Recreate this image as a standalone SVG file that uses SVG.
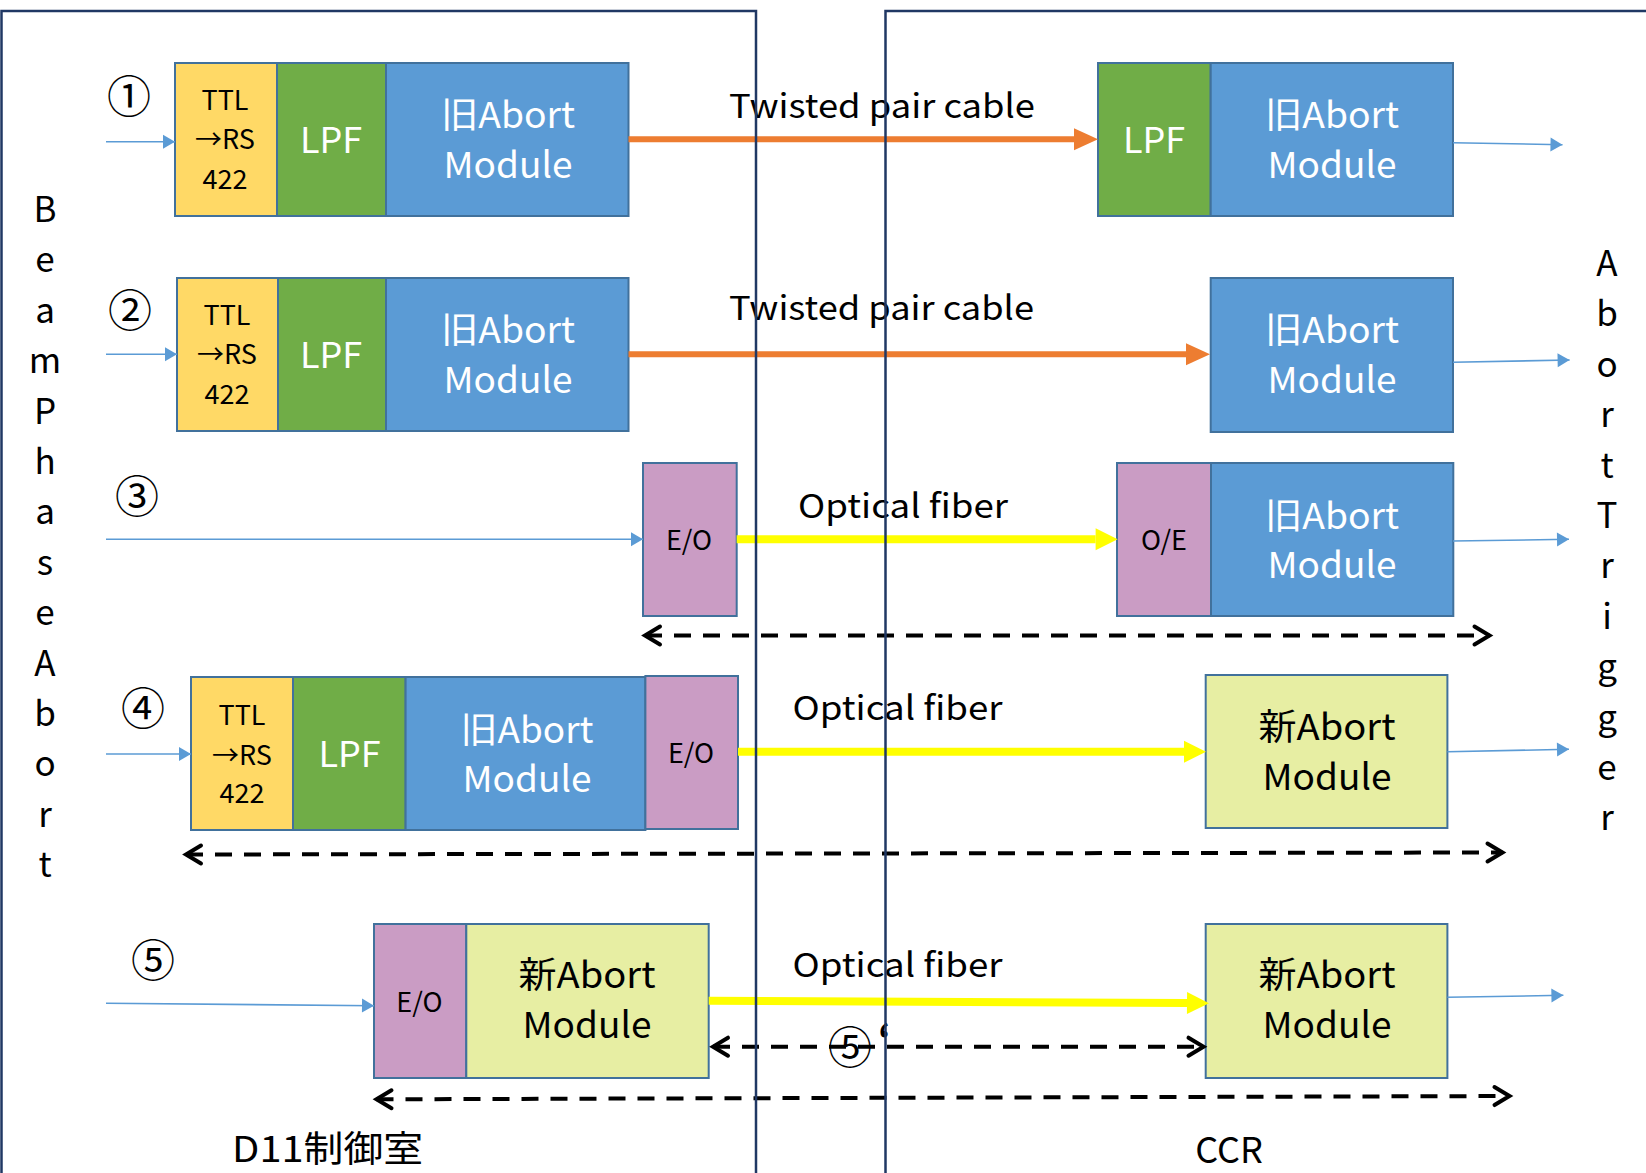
<svg xmlns="http://www.w3.org/2000/svg" width="1646" height="1173" viewBox="0 0 1646 1173">
  <style>
    text { font-family: "Noto Sans CJK JP", "Noto Sans", sans-serif; fill: #000; }
    .box { stroke: #41719C; stroke-width: 2; }
    .ttl { fill: #FFD966; }
    .lpf { fill: #70AD47; }
    .old { fill: #5B9BD5; }
    .eo { fill: #CA9CC4; }
    .new { fill: #E7EEA3; }
    .lbl { font-size: 36px; text-anchor: middle; }
    .w { fill: #fff; }
    .sm { font-size: 27px; text-anchor: middle; }
    .num { font-size: 44px; text-anchor: middle; }
    .cable { font-size: 33px; }
    .vert { font-size: 35px; text-anchor: middle; }
    .sig { stroke: #5B9BD5; stroke-width: 1.6; fill: none; marker-end: url(#blueHead); }
    .tp { stroke: #ED7D31; stroke-width: 6; fill: none; marker-end: url(#orangeHead); }
    .of { stroke: #FFFF00; stroke-width: 8; fill: none; marker-end: url(#yellowHead); }
    .span { stroke: #000; stroke-width: 4; fill: none; stroke-dasharray: 17 12; marker-start: url(#chev); marker-end: url(#chev); }
    .frame { stroke: #203864; stroke-width: 2.5; fill: none; }
  </style>
  <defs>
    <marker id="blueHead" markerUnits="userSpaceOnUse" orient="auto" refX="0" refY="0" markerWidth="20" markerHeight="20" overflow="visible">
      <path d="M-12,-7 L0,0 L-12,7 Z" fill="#5B9BD5"/>
    </marker>
    <marker id="orangeHead" markerUnits="userSpaceOnUse" orient="auto" refX="0" refY="0" markerWidth="30" markerHeight="30" overflow="visible">
      <path d="M0,-11 L24,0 L0,11 Z" fill="#ED7D31"/>
    </marker>
    <marker id="yellowHead" markerUnits="userSpaceOnUse" orient="auto" refX="0" refY="0" markerWidth="30" markerHeight="30" overflow="visible">
      <path d="M0,-11 L22,0 L0,11 Z" fill="#FFFF00"/>
    </marker>
    <marker id="chev" markerUnits="userSpaceOnUse" orient="auto-start-reverse" refX="0" refY="0" markerWidth="30" markerHeight="30" overflow="visible">
      <path d="M-15,-9 L0,0 L-15,9" fill="none" stroke="#000" stroke-width="4" stroke-linecap="round" stroke-linejoin="miter"/>
    </marker>
  </defs>

  <rect width="1646" height="1173" fill="#fff"/>

  <!-- vertical side labels -->
  <g id="label-beam-phase-abort" class="vert">
    <text x="45" y="222">B</text><text x="45" y="272">e</text><text x="45" y="323">a</text>
    <text x="45" y="373">m</text><text x="45" y="424">P</text><text x="45" y="474">h</text>
    <text x="45" y="524">a</text><text x="45" y="575">s</text><text x="45" y="625">e</text>
    <text x="45" y="676">A</text><text x="45" y="726">b</text><text x="45" y="776">o</text>
    <text x="45" y="827">r</text><text x="45" y="877">t</text>
  </g>
  <g id="label-abort-trigger" class="vert">
    <text x="1607" y="276">A</text><text x="1607" y="326">b</text><text x="1607" y="377">o</text>
    <text x="1607" y="427">r</text><text x="1607" y="478">t</text><text x="1607" y="528">T</text>
    <text x="1607" y="578">r</text><text x="1607" y="629">i</text><text x="1607" y="679">g</text>
    <text x="1607" y="730">g</text><text x="1607" y="780">e</text><text x="1607" y="830">r</text>
  </g>

  <!-- route numbers -->
  <g id="route-numbers" class="num">
    <text x="129" y="113">①</text>
    <text x="130" y="327">②</text>
    <text x="137" y="513">③</text>
    <text x="143" y="725">④</text>
    <text x="153" y="977">⑤</text>
  </g>

  <!-- route 1 -->
  <g id="r1-sender">
    <rect class="box ttl" x="175" y="63" width="102" height="153"/>
    <rect class="box lpf" x="277" y="63" width="109" height="153"/>
    <rect class="box old" x="386" y="63" width="242.5" height="153"/>
    <text class="sm" x="225" y="110">TTL</text>
    <text class="sm" x="225" y="149">→RS</text>
    <text class="sm" x="225" y="189">422</text>
    <text class="lbl w" x="331" y="153">LPF</text>
    <text class="lbl w" x="508" y="128" textLength="134" lengthAdjust="spacingAndGlyphs">旧Abort</text>
    <text class="lbl w" x="508" y="178" textLength="129" lengthAdjust="spacingAndGlyphs">Module</text>
  </g>
  <g id="r1-receiver">
    <rect class="box lpf" x="1098" y="63" width="112.7" height="153"/>
    <rect class="box old" x="1210.7" y="63" width="242.3" height="153"/>
    <text class="lbl w" x="1154" y="153">LPF</text>
    <text class="lbl w" x="1332" y="128" textLength="134" lengthAdjust="spacingAndGlyphs">旧Abort</text>
    <text class="lbl w" x="1332" y="178" textLength="129" lengthAdjust="spacingAndGlyphs">Module</text>
  </g>

  <!-- route 2 -->
  <g id="r2-sender">
    <rect class="box ttl" x="177" y="278" width="101" height="153"/>
    <rect class="box lpf" x="278" y="278" width="108" height="153"/>
    <rect class="box old" x="386" y="278" width="242.5" height="153"/>
    <text class="sm" x="227" y="325">TTL</text>
    <text class="sm" x="227" y="364">→RS</text>
    <text class="sm" x="227" y="404">422</text>
    <text class="lbl w" x="331" y="368">LPF</text>
    <text class="lbl w" x="508" y="343" textLength="134" lengthAdjust="spacingAndGlyphs">旧Abort</text>
    <text class="lbl w" x="508" y="393" textLength="129" lengthAdjust="spacingAndGlyphs">Module</text>
  </g>
  <g id="r2-receiver">
    <rect class="box old" x="1210.7" y="278" width="242.3" height="154"/>
    <text class="lbl w" x="1332" y="343" textLength="134" lengthAdjust="spacingAndGlyphs">旧Abort</text>
    <text class="lbl w" x="1332" y="393" textLength="129" lengthAdjust="spacingAndGlyphs">Module</text>
  </g>

  <!-- route 3 -->
  <g id="r3-sender">
    <rect class="box eo" x="643" y="463" width="93.7" height="153"/>
    <text class="sm" x="689" y="550">E/O</text>
  </g>
  <g id="r3-receiver">
    <rect class="box eo" x="1117" y="463" width="94" height="153"/>
    <rect class="box old" x="1211" y="463" width="242.3" height="153"/>
    <text class="sm" x="1164" y="550">O/E</text>
    <text class="lbl w" x="1332" y="529" textLength="134" lengthAdjust="spacingAndGlyphs">旧Abort</text>
    <text class="lbl w" x="1332" y="578" textLength="129" lengthAdjust="spacingAndGlyphs">Module</text>
  </g>

  <!-- route 4 -->
  <g id="r4-sender">
    <rect class="box ttl" x="191" y="677" width="102" height="153"/>
    <rect class="box lpf" x="293" y="677" width="112.6" height="153"/>
    <rect class="box old" x="405.6" y="677" width="239.8" height="153"/>
    <rect class="box eo" x="645.4" y="676" width="92.6" height="153"/>
    <text class="sm" x="242" y="725">TTL</text>
    <text class="sm" x="242" y="765">→RS</text>
    <text class="sm" x="242" y="803">422</text>
    <text class="lbl w" x="349.5" y="767">LPF</text>
    <text class="lbl w" x="527" y="743" textLength="133" lengthAdjust="spacingAndGlyphs">旧Abort</text>
    <text class="lbl w" x="527" y="792" textLength="129" lengthAdjust="spacingAndGlyphs">Module</text>
    <text class="sm" x="691" y="763">E/O</text>
  </g>
  <g id="r4-receiver">
    <rect class="box new" x="1205.7" y="675" width="241.7" height="153"/>
    <text class="lbl" x="1327" y="740" textLength="137" lengthAdjust="spacingAndGlyphs">新Abort</text>
    <text class="lbl" x="1327" y="790" textLength="129" lengthAdjust="spacingAndGlyphs">Module</text>
  </g>

  <!-- route 5 -->
  <g id="r5-sender">
    <rect class="box eo" x="374" y="924" width="92.3" height="154"/>
    <rect class="box new" x="466.3" y="924" width="242.4" height="154"/>
    <text class="sm" x="419.4" y="1012">E/O</text>
    <text class="lbl" x="587" y="988" textLength="137" lengthAdjust="spacingAndGlyphs">新Abort</text>
    <text class="lbl" x="587" y="1038" textLength="129" lengthAdjust="spacingAndGlyphs">Module</text>
  </g>
  <g id="r5-receiver">
    <rect class="box new" x="1205.7" y="924" width="241.7" height="154"/>
    <text class="lbl" x="1327" y="988" textLength="137" lengthAdjust="spacingAndGlyphs">新Abort</text>
    <text class="lbl" x="1327" y="1038" textLength="129" lengthAdjust="spacingAndGlyphs">Module</text>
  </g>

  <!-- connectors -->
  <g id="connectors">
    <!-- trigger inputs -->
    <line class="sig" x1="106" y1="141.7" x2="175" y2="141.7"/>
    <line class="sig" x1="106" y1="354.3" x2="177" y2="354.3"/>
    <line class="sig" x1="106" y1="539.3" x2="643" y2="539.3"/>
    <line class="sig" x1="106" y1="754" x2="191" y2="754"/>
    <line class="sig" x1="106" y1="1003.3" x2="374" y2="1005.7"/>
    <!-- trigger outputs -->
    <line class="sig" x1="1453" y1="142.7" x2="1562.5" y2="144.7"/>
    <line class="sig" x1="1453" y1="362.3" x2="1569.6" y2="360"/>
    <line class="sig" x1="1453" y1="541" x2="1569" y2="539.3"/>
    <line class="sig" x1="1447.4" y1="751.7" x2="1569" y2="749.3"/>
    <line class="sig" x1="1447.4" y1="997.3" x2="1563.4" y2="995.3"/>
    <!-- twisted pair cables -->
    <line class="tp" x1="628.5" y1="139.3" x2="1074" y2="139.3"/>
    <line class="tp" x1="628.5" y1="354.3" x2="1186" y2="354.3"/>
    <!-- optical fibers -->
    <line class="of" x1="736.7" y1="539.3" x2="1095.6" y2="539.3"/>
    <line class="of" x1="738" y1="751.7" x2="1184" y2="751.7"/>
    <line class="of" x1="708.7" y1="1000.7" x2="1187" y2="1003.1"/>
    <!-- replacement spans -->
    <line class="span" x1="645" y1="635.5" x2="1489.5" y2="635.5"/>
    <line class="span" x1="186" y1="854.5" x2="1502.5" y2="852.5"/>
    <line class="span" x1="713" y1="1046.7" x2="1203.5" y2="1046.7"/>
    <line class="span" x1="376.5" y1="1099.3" x2="1509.5" y2="1096"/>
  </g>

  <!-- cable labels -->
  <g id="cable-labels" class="cable">
    <text x="729" y="118" textLength="306" lengthAdjust="spacingAndGlyphs">Twisted pair cable</text>
    <text x="729" y="320" textLength="305" lengthAdjust="spacingAndGlyphs">Twisted pair cable</text>
    <text x="798" y="518" textLength="210" lengthAdjust="spacingAndGlyphs">Optical fiber</text>
    <text x="792.5" y="720" textLength="210" lengthAdjust="spacingAndGlyphs">Optical fiber</text>
    <text x="792.5" y="977" textLength="210" lengthAdjust="spacingAndGlyphs">Optical fiber</text>
  </g>
  <text id="route-5-prime" class="num" x="850" y="1064">⑤</text>
  <text x="878" y="1054" font-size="40" font-weight="bold">‘</text>

  <!-- room labels -->
  <text id="room-d11" x="232" y="1162" font-size="36" textLength="191" lengthAdjust="spacingAndGlyphs">D11制御室</text>
  <text id="room-ccr" x="1229" y="1163" font-size="36" text-anchor="middle">CCR</text>

  <!-- room boundaries -->
  <g id="rooms">
    <path class="frame" d="M1.5,1173 V11 H756 V1173"/>
    <path class="frame" d="M885.5,1173 V11 H1650"/>
  </g>
</svg>
